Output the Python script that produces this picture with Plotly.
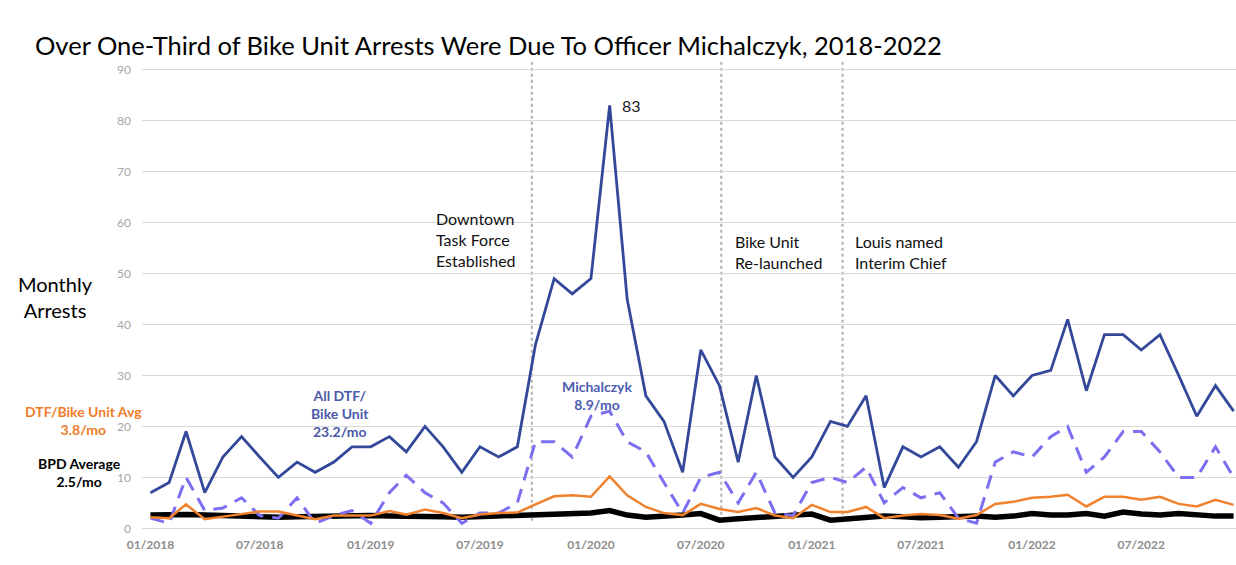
import plotly.graph_objects as go

# ---------------- data ----------------
years = [2018, 2019, 2020, 2021, 2022]
months = [f"{y}-{m:02d}-01" for y in years for m in range(1, 13)]

all_dtf_bike = [7, 9, 19, 7, 14, 18, 14, 10, 13, 11, 13, 16,
                16, 18, 15, 20, 16, 11, 16, 14, 16, 36, 49, 46,
                49, 83, 45, 26, 21, 11, 35, 28, 13, 30, 14, 10,
                14, 21, 20, 26, 8, 16, 14, 16, 12, 17, 30, 26,
                30, 31, 41, 27, 38, 38, 35, 38, 30, 22, 28, 23]

michalczyk = [2, 1, 10, 3.5, 4, 6, 2.5, 2, 6, 1, 2.5, 3.5,
              1, 7, 10.4, 7, 5, 1, 3, 3, 5, 17, 17, 14,
              22, 23, 17, 15, 9, 3, 10, 11, 5, 11, 3, 2.5,
              9, 10, 9, 12, 5, 8, 6, 7, 2, 1, 13, 15,
              14, 18, 20, 11, 14, 19, 19, 15, 10, 10, 16, 10]

dtf_avg = [2.2, 2, 4.7, 1.8, 2.3, 2.8, 3.3, 3.3, 2.5, 1.8, 2.5, 2.5,
           2.5, 3.4, 2.7, 3.7, 3, 2, 2.7, 3, 3.1, 4.7, 6.3, 6.5,
           6.2, 10.2, 6.5, 4.2, 3, 2.6, 4.8, 3.8, 3.2, 4, 2.5, 2,
           4.6, 3.2, 3.2, 4.2, 2, 2.5, 2.8, 2.6, 1.9, 2.6, 4.8, 5.2,
           6, 6.2, 6.6, 4.3, 6.2, 6.2, 5.6, 6.2, 4.8, 4.3, 5.6, 4.6]

bpd_avg = [2.6, 2.7, 2.7, 2.6, 2.5, 2.3, 2.2, 2.2, 2.3, 2.4, 2.4, 2.4,
           2.5, 2.4, 2.4, 2.5, 2.3, 2.2, 2.3, 2.4, 2.5, 2.6, 2.7, 2.7,
           3.0, 3.5, 2.6, 2.2, 2.3, 2.6, 2.9, 1.6, 1.9, 2.1, 2.3, 2.4,
           2.8, 1.6, 1.9, 2.3, 2.4, 2.3, 2.1, 2.2, 2.4, 2.4, 2.2, 2.4,
           2.9, 2.6, 2.6, 2.9, 2.4, 3.2, 2.8, 2.6, 2.9, 2.6, 2.4, 2.4]

event_dates = ["2019-09-25", "2020-08-04", "2021-02-21"]
event_labels = ["Downtown<br>Task Force<br>Established",
                "Bike Unit<br>Re-launched",
                "Louis named<br>Interim Chief"]
peak_label = "83"

title_text = "Over One-Third of Bike Unit Arrests Were Due To Officer Michalczyk, 2018-2022"

# ---------------- style ----------------
FONT = "Lato"
BLUE = "#34489a"
DASH = "#7b6ef0"
ORANGE = "#f0812d"
BLACK = "#000000"

W, H = 1236, 565
ML, MR, MT, MB = 142, 0, 62, 29
PW, PH = W - ML - MR, H - MT - MB


def px(x):
    return (x - ML) / PW


def py(y):
    return (H - MB - y) / PH


fig = go.Figure()
fig.add_trace(go.Scatter(x=months, y=bpd_avg, mode="lines",
                         line=dict(color=BLACK, width=5.5), name="BPD Average"))
fig.add_trace(go.Scatter(x=months, y=michalczyk, mode="lines",
                         line=dict(color=DASH, width=3, dash="14px,9px"), name="Michalczyk"))
fig.add_trace(go.Scatter(x=months, y=dtf_avg, mode="lines",
                         line=dict(color=ORANGE, width=2.5), name="DTF/Bike Unit Avg"))
fig.add_trace(go.Scatter(x=months, y=all_dtf_bike, mode="lines",
                         line=dict(color=BLUE, width=2.8), name="All DTF/Bike Unit"))

shapes = []
for d in event_dates:
    shapes.append(dict(type="line", xref="x", yref="y", x0=d, x1=d, y0=1.5, y1=91.5,
                       line=dict(color="#b0b0b0", width=2, dash="dot"), layer="below"))

ann = []
ann.append(dict(text=title_text, xref="paper", yref="paper", x=px(33), y=py(45),
                xanchor="left", yanchor="middle", showarrow=False,
                font=dict(family=FONT, size=25.5, color="#000000")))
ann.append(dict(text="Monthly<br>Arrests", xref="paper", yref="paper", x=px(55), y=py(297),
                xanchor="center", yanchor="middle", showarrow=False, align="center",
                font=dict(family=FONT, size=20, color="#000000")))
ann.append(dict(text="<b>DTF/Bike Unit Avg<br>3.8/mo</b>", xref="paper", yref="paper",
                x=px(83), y=py(420), xanchor="center", yanchor="middle", showarrow=False,
                align="center", font=dict(family=FONT, size=14, color="#f07c2a")))
ann.append(dict(text="<b>BPD Average<br>2.5/mo</b>", xref="paper", yref="paper",
                x=px(79), y=py(472), xanchor="center", yanchor="middle", showarrow=False,
                align="center", font=dict(family=FONT, size=14, color="#000000")))
ann.append(dict(text="<b>All DTF/<br>Bike Unit<br>23.2/mo</b>", xref="paper", yref="paper",
                x=px(340), y=py(413), xanchor="center", yanchor="middle", showarrow=False,
                align="center", font=dict(family=FONT, size=14, color="#4a5aa8")))
ann.append(dict(text="<b>Michalczyk<br>8.9/mo</b>", xref="paper", yref="paper",
                x=px(597), y=py(395), xanchor="center", yanchor="middle", showarrow=False,
                align="center", font=dict(family=FONT, size=14, color="#4d5cb0")))
label_pos = [(434, 240), (733, 252), (853, 252)]
for (lx, ly), t in zip(label_pos, event_labels):
    ann.append(dict(text=t, xref="paper", yref="paper", x=px(lx), y=py(ly),
                    xanchor="left", yanchor="middle", showarrow=False, align="left",
                    font=dict(family=FONT, size=16, color="#111111")))
peak_i = all_dtf_bike.index(max(all_dtf_bike))
ann.append(dict(text=peak_label, xref="x", yref="y", x=months[peak_i], y=max(all_dtf_bike),
                xanchor="left", yanchor="middle", xshift=10, showarrow=False,
                font=dict(family=FONT, size=16, color="#222222")))

fig.update_layout(
    width=W, height=H,
    margin=dict(l=ML, r=MR, t=MT, b=MB, pad=0),
    paper_bgcolor="white", plot_bgcolor="white",
    showlegend=False,
    shapes=shapes,
    annotations=ann,
    xaxis=dict(range=["2017-12-18", "2022-12-05"], tickformat="%m/%Y", dtick="M6",
               tick0="2018-01-01", showgrid=False, zeroline=False, showline=False,
               ticks="", tickfont=dict(family=FONT, size=12, color="#8c8c8c", weight="bold")),
    yaxis=dict(range=[-1.5, 91.5], tickvals=list(range(0, 100, 10)), showgrid=True,
               gridcolor="#d9d9d9", gridwidth=1, zeroline=False, showline=False, ticks="",
               ticklabelstandoff=10,
               tickfont=dict(family=FONT, size=12, color="#a6a6a6")),
)

fig.write_html("out.html")
